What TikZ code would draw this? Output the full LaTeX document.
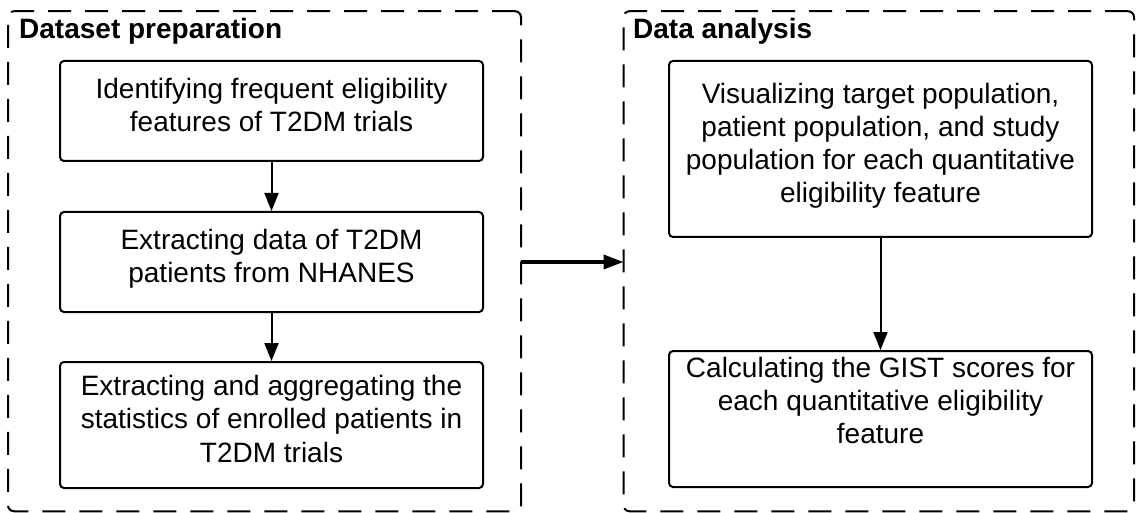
\documentclass[tikz,border=0pt]{standalone}
\usepackage{fontspec}
\setmainfont{Liberation Sans}
\usetikzlibrary{arrows.meta}
\newcommand\linestrut{\rule[-12.3pt]{0pt}{33.3pt}}
\newcommand\tailstrut{\rule[-37pt]{0pt}{0pt}}
\begin{document}
\begin{tikzpicture}[x=1pt,y=-1pt,
  container/.style={draw=black, line width=2pt, dash pattern=on 23pt off 14pt, rounded corners=6pt, inner sep=0pt, outer sep=0pt},
  stepbox/.style={draw=black, line width=2pt, rounded corners=4pt, align=center, inner sep=0pt,
     minimum width=423pt, font=\fontsize{28}{33.3}\selectfont,
     execute at begin node=\linestrut, execute at end node=\linestrut},
  title/.style={anchor=base west, inner sep=0pt, font=\fontsize{28}{33.3}\selectfont\bfseries},
  flow/.style={line width=2pt, -{Triangle[length=18pt,width=14pt]}},
  bigflow/.style={line width=3.5pt, -{Triangle[length=20pt,width=14pt]}}
]
\useasboundingbox (0,0) rectangle (1138,513);

\node[container, minimum width=513pt, minimum height=500pt] (leftc) at (264.5,261.25) {};
\node[container, minimum width=510.5pt, minimum height=500pt] (rightc) at (878.75,261.25) {};

\node[title] (t1) at (19,39) {Dataset preparation};
\node[title] (t2) at (633,39) {Data analysis};

\node[stepbox, minimum height=100pt] (b1) at (271.5,111) {Identifying frequent eligibility\\features of T2DM trials};
\node[stepbox, minimum height=100pt] (b2) at (271.5,262) {Extracting data of T2DM\\patients from NHANES};
\node[stepbox, minimum height=126pt] (b3) at (271.5,425) {Extracting and aggregating the\\statistics of enrolled patients in\\T2DM trials};
\node[stepbox, minimum height=176pt] (b4) at (880.5,149) {Visualizing target population,\\patient population, and study\\population for each quantitative\\eligibility feature};
\node[stepbox, minimum height=136pt] (b5) at (880.5,419) {Calculating the GIST scores for\\each quantitative eligibility\\feature\tailstrut};

\draw[flow] (b1.south) -- (b2.north);
\draw[flow] (b2.south) -- (b3.north);
\draw[flow] (b4.south) -- (b5.north);

\coordinate (harr) at (572,262);
\draw[bigflow] (leftc.east |- harr) -- (rightc.west |- harr);
\end{tikzpicture}
\end{document}
